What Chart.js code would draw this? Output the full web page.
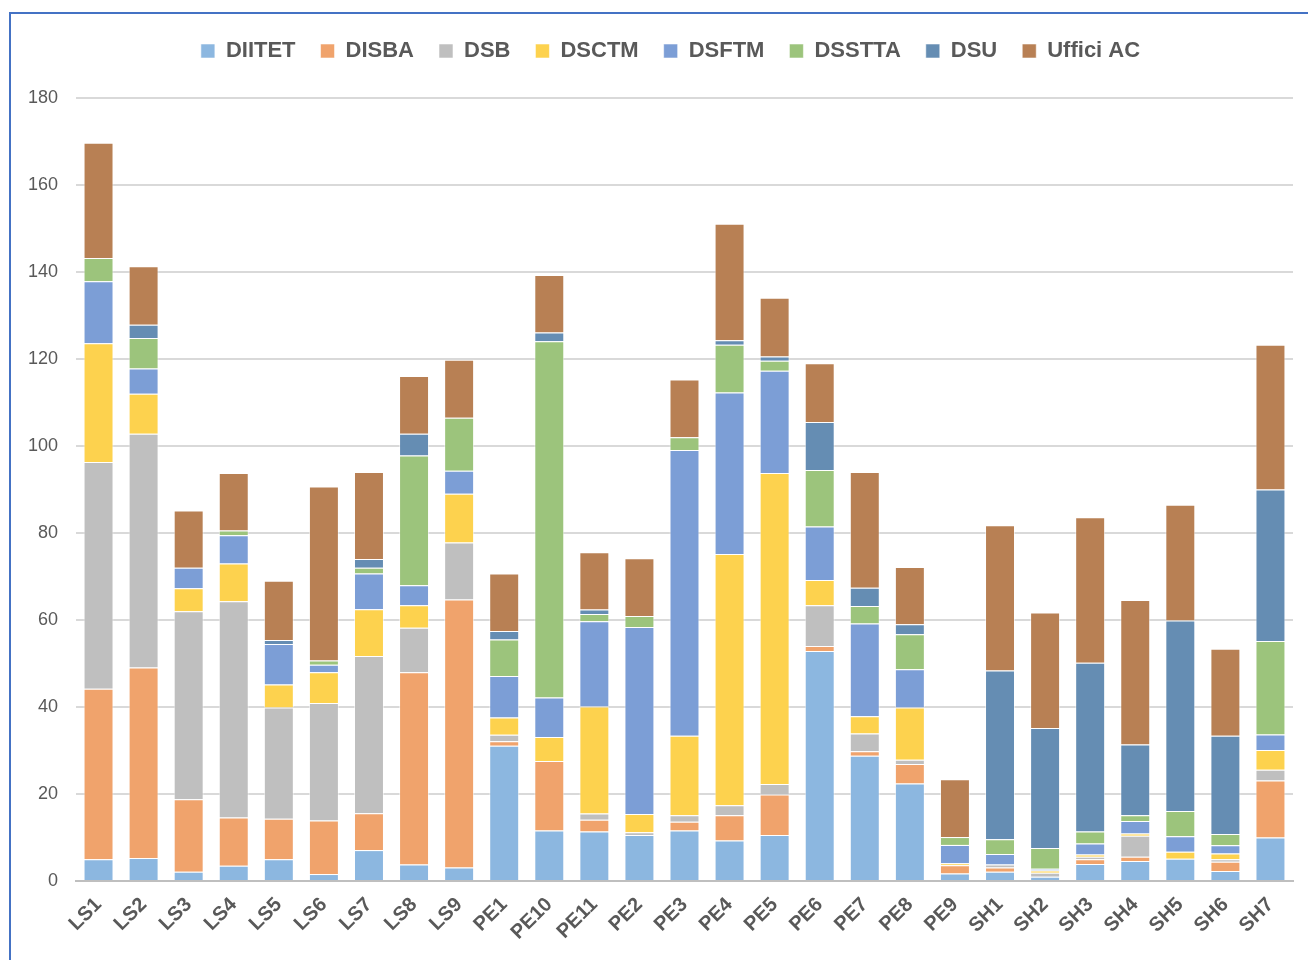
<!DOCTYPE html>
<html>
<head>
<meta charset="utf-8">
<script src="https://cdn.jsdelivr.net/npm/chart.js@4/dist/chart.umd.min.js"></script>
<style>
  body { margin: 0; background: #ffffff; }
  #frame { position: absolute; left: 9px; top: 12px; width: 1320px; height: 960px;
           border-left: 2px solid #4472c4; border-top: 2px solid #4472c4; }
  #wrap { position: absolute; left: 0; top: 0; width: 1308px; height: 960px; }
</style>
</head>
<body>
<div id="frame"></div>
<div id="wrap"><canvas id="chart"></canvas></div>
<script>
// categorie e valori
const categories = ['LS1','LS2','LS3','LS4','LS5','LS6','LS7','LS8','LS9',
  'PE1','PE10','PE11','PE2','PE3','PE4','PE5','PE6','PE7','PE8','PE9',
  'SH1','SH2','SH3','SH4','SH5','SH6','SH7'];

const diitet = [5.0, 5.3, 2.1, 3.5, 5.0, 1.6, 7.1, 3.8, 3.1, 31.1, 11.6, 11.4, 10.6, 11.6, 9.3, 10.6, 52.9, 28.8, 22.4, 1.7, 2.1, 1.0, 3.9, 4.6, 5.1, 2.3, 10.0];
const disba  = [39.2, 43.8, 16.7, 11.1, 9.3, 12.3, 8.5, 44.2, 61.6, 1.0, 16.0, 2.7, 0, 2.0, 5.8, 9.3, 1.1, 1.0, 4.5, 1.9, 1.0, 0, 1.1, 1.0, 0, 2.1, 13.1];
const dsb    = [52.1, 53.7, 43.2, 49.7, 25.6, 27.0, 36.1, 10.2, 13.1, 1.5, 0, 1.4, 0.6, 1.5, 2.3, 2.4, 9.4, 4.1, 1.0, 0, 0.7, 0.9, 0.6, 4.8, 0, 0.6, 2.5];
const dsctm  = [27.3, 9.2, 5.3, 8.7, 5.3, 7.1, 10.8, 5.2, 11.2, 4.0, 5.5, 24.6, 4.2, 18.3, 57.8, 71.5, 5.8, 4.0, 12.0, 0.5, 0, 0.5, 0.5, 0.5, 1.6, 1.3, 4.5];
const dsftm  = [14.3, 5.8, 4.7, 6.5, 9.3, 1.7, 8.2, 4.6, 5.3, 9.5, 9.1, 19.6, 43.0, 65.7, 37.1, 23.5, 12.3, 21.3, 8.8, 4.2, 2.4, 0.4, 2.5, 2.9, 3.6, 1.9, 3.6];
const dsstta = [5.3, 7.0, 0, 1.1, 0, 1.0, 1.3, 29.8, 12.2, 8.4, 81.9, 1.7, 2.5, 2.9, 11.0, 2.3, 13.0, 4.0, 8.0, 1.8, 3.4, 4.8, 2.8, 1.3, 5.8, 2.6, 21.5];
const dsu    = [0, 3.1, 0, 0, 0.9, 0, 2.0, 5.0, 0, 2.0, 2.0, 1.0, 0, 0, 1.0, 1.0, 11.0, 4.2, 2.3, 0, 38.8, 27.6, 38.8, 16.3, 43.8, 22.6, 34.8];
const uffici = [26.5, 13.4, 13.2, 13.2, 13.6, 40.0, 20.0, 13.3, 13.3, 13.2, 13.2, 13.2, 13.3, 13.3, 26.8, 13.5, 13.5, 26.6, 13.2, 13.3, 33.4, 26.5, 33.4, 33.2, 26.6, 20.0, 33.3];

const seriesNames = ['DIITET', 'DISBA', 'DSB', 'DSCTM', 'DSFTM', 'DSSTTA', 'DSU', 'Uffici AC'];
const seriesData = [diitet, disba, dsb, dsctm, dsftm, dsstta, dsu, uffici];
const seriesColors = ['#8cb7e0', '#f0a36c', '#bfbfbf', '#fdd24e', '#7c9ed6', '#9cc47c', '#658db3', '#b88054'];

const textColor = '#595959';

const datasets = seriesNames.map((name, i) => ({
    label: name,
    data: seriesData[i],
    backgroundColor: seriesColors[i],
    borderColor: 'rgba(255,255,255,0.55)',
    borderWidth: 1,
    barPercentage: 0.665,
    categoryPercentage: 1.0
}));

// spazio extra sotto la legenda e legenda centrata sull'area del grafico
const legendGap = {
    id: 'legendGap',
    beforeInit(chart) {
        const fit = chart.legend.fit;
        chart.legend.fit = function () {
            fit.call(this);
            this.height += 26;
        };
    },
    afterLayout(chart) {
        chart.legend.left += 24;
        chart.legend.right += 24;
    }
};

new Chart(document.getElementById('chart'), {
    type: 'bar',
    data: { labels: categories, datasets: datasets },
    plugins: [legendGap],
    options: {
        responsive: true,
        maintainAspectRatio: false,
        animation: false,
        layout: { padding: { top: 15, right: 15, bottom: 0, left: 0 } },
        plugins: {
            legend: {
                position: 'top',
                labels: {
                    boxWidth: 14,
                    boxHeight: 14,
                    padding: 25,
                    color: textColor,
                    font: { family: 'Liberation Sans, Arial, sans-serif', size: 22, weight: 'bold' }
                }
            },
            tooltip: { enabled: false }
        },
        scales: {
            x: {
                stacked: true,
                grid: { display: false, drawTicks: false },
                border: { color: '#bfbfbf', width: 2 },
                ticks: {
                    color: textColor,
                    minRotation: 45,
                    maxRotation: 45,
                    padding: 12,
                    font: { family: 'Liberation Sans, Arial, sans-serif', size: 20, weight: 'bold' }
                },
                afterFit: function (scale) { scale.height = 79; }
            },
            y: {
                stacked: true,
                min: 0,
                max: 180,
                grid: { color: '#d9d9d9', lineWidth: 2, drawTicks: false },
                border: { display: false },
                ticks: {
                    stepSize: 20,
                    padding: 18,
                    color: textColor,
                    font: { family: 'Liberation Sans, Arial, sans-serif', size: 18 }
                },
                afterFit: function (scale) { scale.width = 76; }
            }
        }
    }
});
</script>
</body>
</html>
